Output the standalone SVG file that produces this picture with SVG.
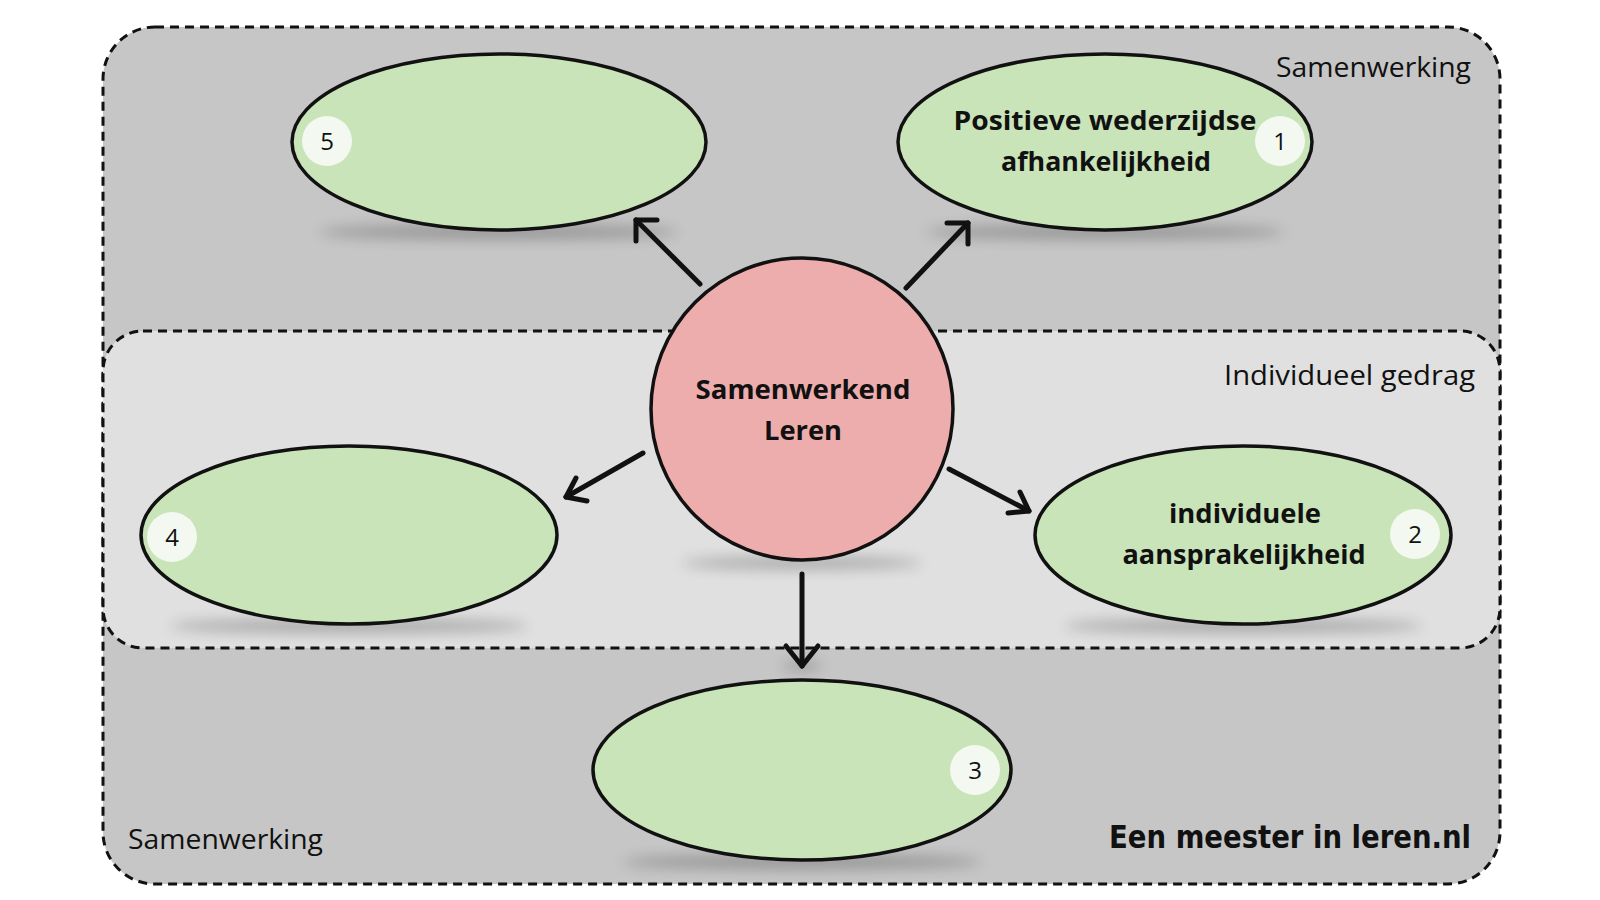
<svg xmlns="http://www.w3.org/2000/svg" width="1600" height="900" viewBox="0 0 1600 900">
<defs>
<style>
.zone{stroke:#111;stroke-width:3;stroke-dasharray:9 6;}
.ell{fill:#c9e4b9;stroke:#111;stroke-width:3.5;}
.badge{fill:#f3f8f0;}
.num{font-family:"Open Sans",Lato,sans-serif;font-size:24px;fill:#111;text-anchor:middle;}
.lbl{font-family:"Open Sans",Lato,sans-serif;font-weight:bold;font-size:27px;fill:#111;text-anchor:middle;}
.zl{font-family:"Open Sans",Lato,sans-serif;font-size:27px;fill:#111;}
.conn line,.conn path{stroke:#111;stroke-width:5;stroke-linecap:round;stroke-linejoin:round;fill:none;}
.shadow{fill:#000;opacity:0.25;filter:url(#blur);}
</style>
<filter id="blur" x="-50%" y="-200%" width="200%" height="500%"><feGaussianBlur stdDeviation="7"/></filter>
</defs>
<rect width="1600" height="900" fill="#ffffff"/>
<g id="zone-samenwerking">
<rect class="zone" x="103" y="27" width="1397" height="857" rx="52" fill="#c6c6c6"/>
</g>
<g id="zone-individueel">
<rect class="zone" x="103" y="331" width="1397" height="317" rx="40" fill="#e0e0e0"/>
</g>
<g id="shadows">
<ellipse class="shadow" cx="499" cy="232" rx="180" ry="7"/>
<ellipse class="shadow" cx="1105" cy="232" rx="180" ry="7"/>
<ellipse class="shadow" cx="349" cy="626" rx="180" ry="7"/>
<ellipse class="shadow" cx="1243" cy="626" rx="180" ry="7"/>
<ellipse class="shadow" cx="802" cy="862" rx="180" ry="7"/>
<ellipse class="shadow" cx="802" cy="563" rx="120" ry="6"/>
<ellipse class="shadow" cx="802" cy="666" rx="20" ry="4"/>
</g>
<text class="zl" x="1471" y="77" text-anchor="end" textLength="195" lengthAdjust="spacingAndGlyphs">Samenwerking</text>
<text class="zl" x="1475" y="385" text-anchor="end" textLength="251" lengthAdjust="spacingAndGlyphs">Individueel gedrag</text>
<text class="zl" x="128" y="849" textLength="195" lengthAdjust="spacingAndGlyphs">Samenwerking</text>
<text x="1471" y="848" text-anchor="end" font-family="'DejaVu Sans',sans-serif" font-size="32" font-weight="bold" fill="#111" textLength="362" lengthAdjust="spacingAndGlyphs">Een meester in leren.nl</text>
<g class="conn" id="connectors">
<line x1="700" y1="284" x2="636" y2="220"/><path d="M636 241 L636 220 L657 220"/>
<line x1="906" y1="288" x2="968" y2="223"/><path d="M947 223 L968 223 L968 244"/>
<line x1="643" y1="453" x2="566" y2="497"/><path d="M576 478 L566 497 L587 501"/>
<line x1="949" y1="469" x2="1029" y2="511"/><path d="M1008 513 L1029 511 L1020 492"/>
<line x1="802" y1="574" x2="802" y2="666"/><path d="M786 646 L802 666 L818 646"/>
</g>
<g id="node-5">
<ellipse class="ell" cx="499" cy="142" rx="207" ry="88"/>
<circle class="badge" cx="327" cy="141" r="25"/>
<text class="num" x="327" y="150">5</text>
</g>
<g id="node-1">
<ellipse class="ell" cx="1105" cy="142" rx="207" ry="88"/>
<text class="lbl" x="1105" y="130" textLength="303" lengthAdjust="spacingAndGlyphs">Positieve wederzijdse</text>
<text class="lbl" x="1106" y="171" textLength="210" lengthAdjust="spacingAndGlyphs">afhankelijkheid</text>
<circle class="badge" cx="1280" cy="141" r="25"/>
<text class="num" x="1280" y="150">1</text>
</g>
<g id="node-4">
<ellipse class="ell" cx="349" cy="535" rx="208" ry="89"/>
<circle class="badge" cx="172" cy="537" r="25"/>
<text class="num" x="172" y="546">4</text>
</g>
<g id="node-2">
<ellipse class="ell" cx="1243" cy="535" rx="208" ry="89"/>
<text class="lbl" x="1245" y="523" textLength="152" lengthAdjust="spacingAndGlyphs">individuele</text>
<text class="lbl" x="1244" y="564" textLength="243" lengthAdjust="spacingAndGlyphs">aansprakelijkheid</text>
<circle class="badge" cx="1415" cy="534" r="25"/>
<text class="num" x="1415" y="543">2</text>
</g>
<g id="node-3">
<ellipse class="ell" cx="802" cy="770" rx="209" ry="90"/>
<circle class="badge" cx="975" cy="770" r="25"/>
<text class="num" x="975" y="779">3</text>
</g>
<g id="node-center">
<circle cx="802" cy="409" r="151" fill="#eeadad" stroke="#111" stroke-width="3.5"/>
<text class="lbl" x="803" y="399" textLength="215" lengthAdjust="spacingAndGlyphs">Samenwerkend</text>
<text class="lbl" x="803" y="440" textLength="78" lengthAdjust="spacingAndGlyphs">Leren</text>
</g>
</svg>
